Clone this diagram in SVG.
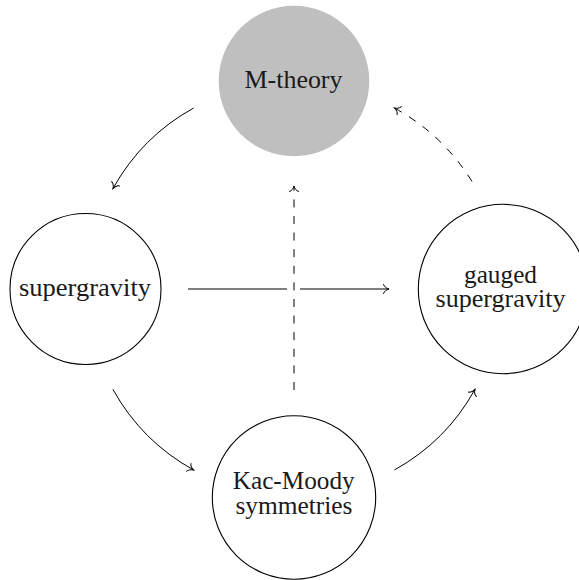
<svg xmlns="http://www.w3.org/2000/svg" width="579" height="580" viewBox="0 0 579 580">
<style>
  .node { fill: none; stroke: #000; stroke-width: 1.1; }
  .filled { fill: #bfbfbf; stroke: none; }
  .lbl { font-family: "Liberation Serif", "Times New Roman", serif; font-size: 24.5px; fill: #1a1a1a; text-anchor: middle; }
  .edge { fill: none; stroke: #000; stroke-width: 1; }
  .dash { stroke-dasharray: 8 8.6; }
</style>
<defs>
  <marker id="to" markerUnits="userSpaceOnUse" viewBox="-8 -6 10 12" markerWidth="10" markerHeight="12" refX="0" refY="0" orient="auto" overflow="visible">
    <path d="M-5.5,-4.5 C-4.8,-2 -2.2,-0.6 0,0 C-2.2,0.6 -4.8,2 -5.5,4.5" fill="none" stroke="#000" stroke-width="1" stroke-linecap="round"/>
  </marker>
</defs>
<rect width="579" height="580" fill="#fff"/>
<g id="m-theory">
  <circle class="filled" cx="294" cy="81" r="75.3"/>
  <text class="lbl" x="293.5" y="88" textLength="98" lengthAdjust="spacingAndGlyphs">M-theory</text>
</g>
<g id="supergravity">
  <circle class="node" cx="85.5" cy="289" r="75.5"/>
  <text class="lbl" x="85" y="295.5" textLength="132" lengthAdjust="spacingAndGlyphs">supergravity</text>
</g>
<g id="gauged-supergravity">
  <circle class="node" cx="503" cy="289" r="84.7"/>
  <text class="lbl" x="500.5" y="282.5" textLength="73" lengthAdjust="spacingAndGlyphs">gauged</text>
  <text class="lbl" x="500.5" y="307" textLength="130" lengthAdjust="spacingAndGlyphs">supergravity</text>
</g>
<g id="kac-moody">
  <circle class="node" cx="294" cy="497.5" r="81.7"/>
  <text class="lbl" x="293.7" y="489" textLength="122" lengthAdjust="spacingAndGlyphs">Kac-Moody</text>
  <text class="lbl" x="294" y="513.5" textLength="117" lengthAdjust="spacingAndGlyphs">symmetries</text>
</g>
<g id="connectors">
  <path class="edge" d="M193.6,108 A207,207 0 0 0 112.95,188.6" marker-end="url(#to)"/>
  <path class="edge" d="M112.95,389.4 A207,207 0 0 0 193.6,470" marker-end="url(#to)"/>
  <path class="edge" d="M394.4,470 A207,207 0 0 0 475,389.4" marker-end="url(#to)"/>
  <path class="edge dash" d="M472,181.5 A207,207 0 0 0 394.4,108" marker-end="url(#to)"/>
  <line class="edge" x1="188" y1="289" x2="287" y2="289"/>
  <path class="edge" d="M300,289 L389,289" marker-end="url(#to)"/>
  <path class="edge dash" d="M294,390 L294,186" marker-end="url(#to)"/>
</g>
</svg>
